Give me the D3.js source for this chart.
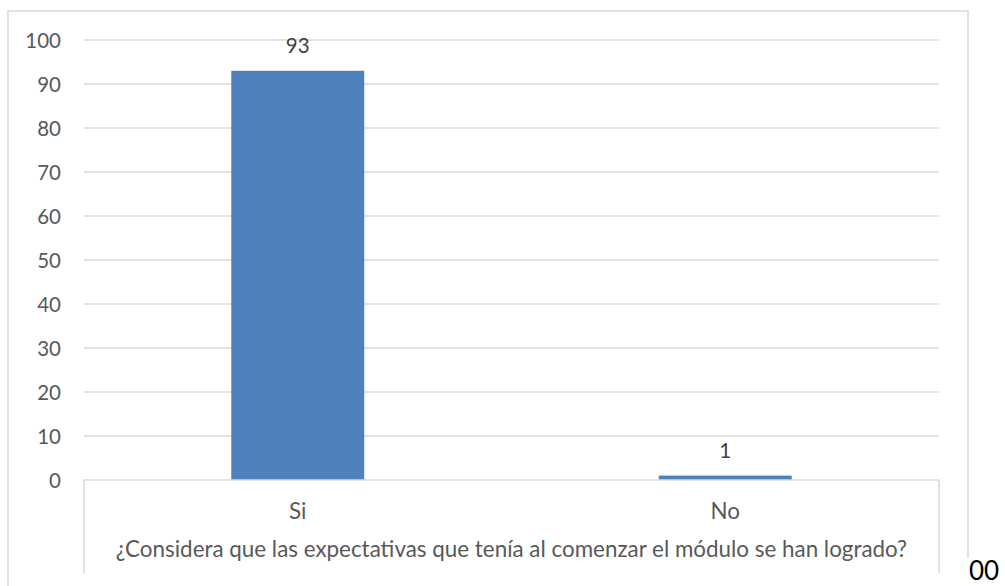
<!DOCTYPE html>
<html>
<head>
<meta charset="utf-8">
<script src="https://cdn.jsdelivr.net/npm/d3@7"></script>
<style>
  html, body { margin: 0; padding: 0; background: #fff; overflow: hidden; }
  svg { display: block; }
  text { font-family: Lato, "Open Sans", sans-serif; }
</style>
</head>
<body>
<svg id="chart" width="1005" height="586"></svg>
<script>
const categories = ["Si", "No"];
const values = [93, 1];
const yTicks = [0, 10, 20, 30, 40, 50, 60, 70, 80, 90, 100];
const groupLabel = "¿Considera que las expectativas que tenía al comenzar el módulo se han logrado?";
const strayText = "00";

const svg = d3.select("#chart");
const plot = { left: 84, right: 939, top: 40, bottom: 480 };
const gridColor = "#d9d9d9";
const textColor = "#595959";
const barColor = "#4f81bd";
const numSize = 20.5;
const labelSize = 22.4;

// outer chart border (bottom edge falls outside the picture)
svg.append("path")
  .attr("d", `M8,600 L8,11 L968,11 L968,558`)
  .attr("fill", "none")
  .attr("stroke", gridColor)
  .attr("stroke-width", 1.5);

const y = d3.scaleLinear().domain([0, 100]).range([plot.bottom, plot.top]);
const x = d3.scaleBand().domain(categories).range([plot.left, plot.right]).padding(0);
const barW = x.bandwidth() * 0.311;

// gridlines
svg.append("g").selectAll("line")
  .data(yTicks.filter(d => d !== 0))
  .join("line")
  .attr("x1", plot.left).attr("x2", plot.right)
  .attr("y1", d => y(d)).attr("y2", d => y(d))
  .attr("stroke", gridColor).attr("stroke-width", 1.5);

// y axis labels
const yAxis = d3.axisLeft(y).tickValues(yTicks).tickSize(0).tickPadding(0);
const ya = svg.append("g").attr("transform", `translate(61,0)`).call(yAxis);
ya.select(".domain").remove();
ya.selectAll("text")
  .attr("fill", textColor)
  .style("font-size", numSize + "px")
  .style("font-family", "Lato, sans-serif")
  .attr("dy", "0.37em");

// bars
svg.append("g").selectAll("rect")
  .data(values)
  .join("rect")
  .attr("x", (d, i) => x(categories[i]) + x.bandwidth() / 2 - barW / 2)
  .attr("width", barW)
  .attr("y", d => y(d))
  .attr("height", d => y(0) - y(d))
  .attr("fill", barColor);

// value labels
svg.append("g").selectAll("text")
  .data(values)
  .join("text")
  .attr("x", (d, i) => x(categories[i]) + x.bandwidth() / 2)
  .attr("y", d => y(d) - 18)
  .attr("text-anchor", "middle")
  .attr("fill", "#404040")
  .style("font-size", numSize + "px")
  .text(d => d);

// category axis box (multi-level axis)
svg.append("path")
  .attr("d", `M${plot.left},573 L${plot.left},${plot.bottom} L${plot.right},${plot.bottom} L${plot.right},573`)
  .attr("fill", "none")
  .attr("stroke", gridColor)
  .attr("stroke-width", 1.5);

// category labels
const xAxis = d3.axisBottom(x).tickSize(0).tickPadding(0);
const xa = svg.append("g").attr("transform", `translate(0,${plot.bottom})`).call(xAxis);
xa.select(".domain").remove();
xa.selectAll("text")
  .attr("fill", textColor)
  .style("font-size", labelSize + "px")
  .style("font-family", "Lato, sans-serif")
  .attr("y", 39).attr("dy", 0);

// group label
svg.append("text")
  .attr("x", (plot.left + plot.right) / 2)
  .attr("y", 557)
  .attr("text-anchor", "middle")
  .attr("fill", textColor)
  .style("font-size", labelSize + "px")
  .text(groupLabel);

// stray text at bottom right
svg.append("text")
  .attr("x", 969)
  .attr("y", 580)
  .attr("fill", "#000")
  .style("font-size", "26px")
  .text(strayText);
</script>
</body>
</html>
